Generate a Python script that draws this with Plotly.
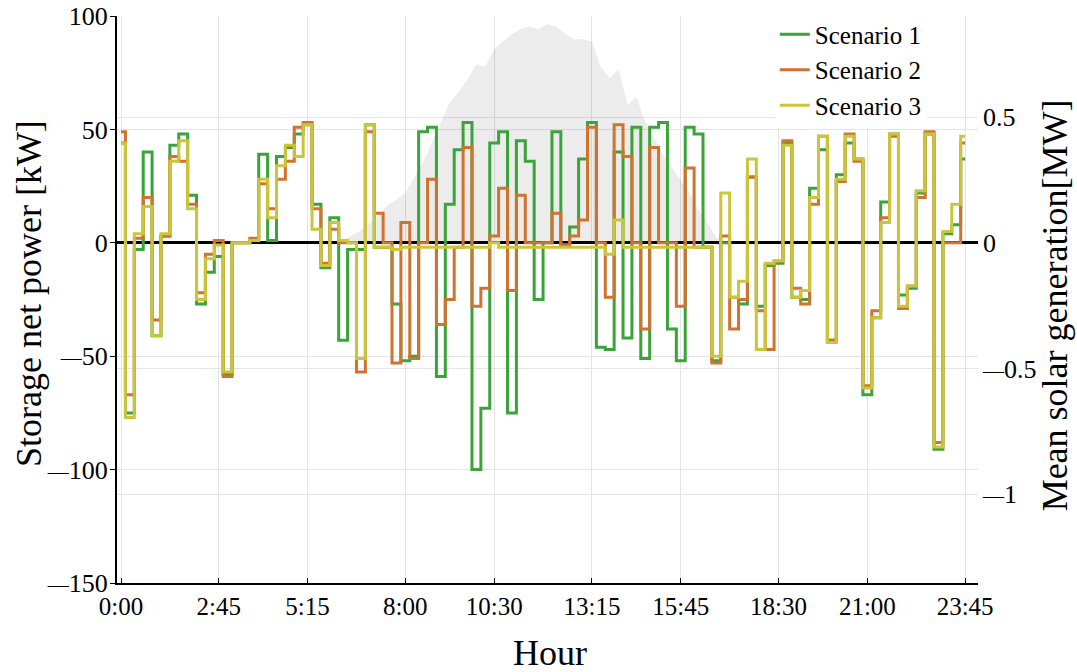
import plotly.graph_objects as go

# 15-minute time slots
times = [f"{h}:{m:02d}" for h in range(24) for m in (0, 15, 30, 45)]

tick_labels = ["0:00", "2:45", "5:15", "8:00", "10:30", "13:15", "15:45", "18:30", "21:00", "23:45"]

scenario1 = [44, -75, -3, 40, -41, 3, 43, 48, 21, -27, -13, -6, -58, 0, 0, 1,
             39, 1, 38, 42, 48, 52, 17, -11, 11, -43, -3, -3, 52, -2, -2, -27,
             -52, -50, 49, 51, -59, 17, 41, 53, -100, -73, 44, 49, -75, 45, 36, -25,
             0, 49, -1, 7, 37, 53, -46, -47, 40, -42, 51, -51, 51, 53, -38, -52,
             51, 48, -2, -52, 0, -24, -27, 29, -28, -10, -9, 44, -24, -25, 24, 41,
             -43, 30, 44, 37, -67, -33, 18, 48, -23, -20, 22, 48, -91, 4, 8, 37]

scenario2 = [49, -67, 2, 20, -34, 3, 38, 36, 17, -22, -5, 1, -59, 0, 0, 2,
             26, 15, 28, 36, 51, 53, 15, -9, 6, 0, 0, -57, 49, 13, 0, -53,
             9, -51, 0, 28, -36, -25, -2, 42, -28, -20, 3, 24, -21, 21, 0, 0,
             0, 13, -1, 3, 10, 51, 0, -24, 52, 38, 0, -38, 42, 0, 0, -28,
             33, -2, -2, -53, 3, -38, -25, 29, -30, -47, -8, 45, -20, -27, 17, 47,
             -43, 27, 48, 36, -63, -30, 11, 47, -29, -19, 20, 49, -88, 0, 0, 44]

scenario3 = [44, -77, 4, 16, -41, 4, 36, 45, 15, -25, -7, -1, -57, 0, 0, 1,
             28, 11, 34, 43, 38, 52, 6, -10, 9, 1, 0, -51, 52, -2, -2, -3,
             -2, -2, -2, -2, -2, -2, -2, -2, -2, -2, 0, -2, -2, -2, -2, -2,
             -2, -2, -2, -2, -2, -2, -2, -5, 10, -2, -2, -2, -2, -2, -2, -2,
             -2, -2, -2, -50, 22, -24, -17, 37, -47, -9, -8, 43, -24, -21, 20, 47,
             -44, 28, 47, 37, -64, -33, 9, 48, -28, -19, 23, 48, -90, 5, 17, 47]

solar_mw = [0] * 24 + [0.0, 0.01, 0.03, 0.05, 0.08, 0.11, 0.15, 0.17,
                       0.20, 0.26, 0.32, 0.40, 0.48, 0.56, 0.60, 0.65,
                       0.71, 0.70, 0.77, 0.80, 0.83, 0.85, 0.86, 0.85,
                       0.87, 0.86, 0.83, 0.81, 0.81, 0.80, 0.70, 0.655,
                       0.69, 0.55, 0.58, 0.48, 0.42, 0.35, 0.30, 0.25,
                       0.20, 0.13, 0.08, 0.02] + [0] * 28

DASH = "<span style='font-size:21px'>\u2014</span>"
left_ticks = [-150, -100, -50, 0, 50, 100]
left_text = [DASH + "150", DASH + "100", DASH + "50", "0", "50", "100"]
right_ticks = [-1, -0.5, 0, 0.5]
right_text = [DASH + "1", DASH + "0.5", "0", "0.5"]

names = ["Scenario 1", "Scenario 2", "Scenario 3"]
colors = ["#3aa33a", "#d2722f", "#cbc53a"]
FONT = "Liberation Serif"

fig = go.Figure()
fig.add_trace(go.Scatter(x=times, y=solar_mw, yaxis="y2", mode="lines",
                         line=dict(width=0, color="rgba(0,0,0,0)"),
                         fill="tozeroy", fillcolor="rgba(0,0,0,0.075)",
                         showlegend=False, hoverinfo="skip"))
for name, vals, col, grp in zip(names, [scenario1, scenario2, scenario3], colors, ["a", "b", "c"]):
    fig.add_trace(go.Scatter(x=times, y=vals, name=name, mode="lines",
                             line=dict(shape="hvh", width=3, color=col),
                             legendgroup=grp))

fig.update_layout(
    width=1077, height=672,
    margin=dict(l=117, r=99, t=16, b=89, autoexpand=False),
    paper_bgcolor="white", plot_bgcolor="white",
    font=dict(family=FONT, size=26, color="black"),
    showlegend=True,
    legend=dict(x=0.764, y=1.008, xanchor="left", yanchor="top",
                bgcolor="white", borderwidth=0, font=dict(size=25),
                traceorder="grouped", tracegroupgap=0),
    xaxis=dict(type="category", categoryorder="array", categoryarray=times,
               range=[-0.45, 96.45], tickmode="array", tickvals=tick_labels, ticktext=tick_labels,
               showgrid=True, gridcolor="#e4e4e4", gridwidth=1,
               showline=True, linecolor="black", linewidth=2,
               ticks="inside", ticklen=5, tickcolor="black",
               tickfont=dict(size=25), zeroline=False, automargin=False),
    yaxis=dict(range=[-150, 100], tickmode="array", tickvals=left_ticks, ticktext=left_text,
               showgrid=True, gridcolor="#e4e4e4", gridwidth=1,
               showline=True, linecolor="black", linewidth=2,
               ticks="outside", ticklen=5, tickcolor="black",
               zeroline=True, zerolinecolor="black", zerolinewidth=2.5,
               tickfont=dict(size=26), overlaying="y2", side="left", automargin=False,
               ticklabelstandoff=-3, ticklabeloverflow="allow"),
    yaxis2=dict(range=[-1.353, 0.902], tickmode="array", tickvals=right_ticks, ticktext=right_text,
                showgrid=True, gridcolor="#e4e4e4", gridwidth=1, side="right",
                showline=False, ticks="", zeroline=False,
                tickfont=dict(size=26), anchor="x", automargin=False,
                ticklabelstandoff=4, ticklabeloverflow="allow"),
    annotations=[
        dict(text="Storage net power [kW]", x=-0.102, y=0.51, xref="paper", yref="paper",
             textangle=-90, showarrow=False, font=dict(size=36), xanchor="center", yanchor="middle"),
        dict(text="Mean solar generation[MW]", x=1.089, y=0.489, xref="paper", yref="paper",
             textangle=-90, showarrow=False, font=dict(size=36), xanchor="center", yanchor="middle"),
        dict(text="Hour", x=0.503, y=-0.124, xref="paper", yref="paper",
             showarrow=False, font=dict(size=36), xanchor="center", yanchor="middle"),
    ],
)

# remove the default page margin so the figure fills the window exactly
fig.write_html("out.html", config={"displayModeBar": False},
               post_script="document.body.style.margin='0px';")
